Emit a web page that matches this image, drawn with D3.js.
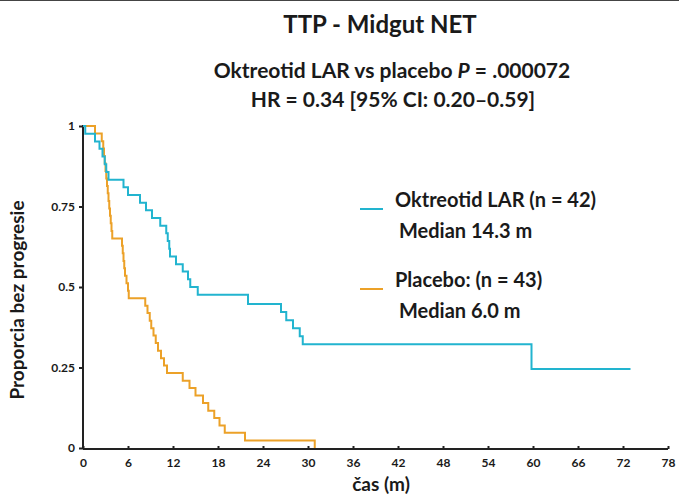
<!DOCTYPE html>
<html>
<head>
<meta charset="utf-8">
<script src="https://cdn.jsdelivr.net/npm/d3@7"></script>
<style>
  body { margin: 0; background: #fff; }
  svg { display: block; }
  text { font-family: Lato, "Open Sans", sans-serif; font-weight: bold; fill: #1a1a1a; }
</style>
</head>
<body>
<script>
// months on x axis
const monthTicks = [0, 6, 12, 18, 24, 30, 36, 42, 48, 54, 60, 66, 72, 78];
const propTicks = [0, 0.25, 0.5, 0.75, 1];
const propLabels = ['0', '0.25', '0.5', '0.75', '1'];

// Oktreotid LAR (n = 42)
const oktTime = [0, 0.3, 1.6, 2.2, 2.6, 2.9, 3.1, 3.4, 5.4, 6.0, 7.6, 8.4, 9.2, 10.3, 11.1, 11.3, 11.5, 11.6, 12.4, 13.3, 14.0, 14.3, 15.3, 22.0, 26.4, 27.1, 28.0, 28.9, 29.3, 59.8, 73];
const oktSurv = [1, 0.976, 0.952, 0.929, 0.905, 0.881, 0.857, 0.833, 0.810, 0.786, 0.762, 0.738, 0.714, 0.690, 0.667, 0.643, 0.619, 0.595, 0.571, 0.548, 0.524, 0.500, 0.476, 0.447, 0.422, 0.397, 0.372, 0.347, 0.322, 0.245, 0.245];

// Placebo (n = 43)
const plcTime = [0, 1.6, 2.5, 2.7, 2.8, 2.9, 3.0, 3.1, 3.2, 3.3, 3.4, 3.5, 3.6, 3.7, 3.8, 3.9, 5.2, 5.3, 5.4, 5.5, 5.6, 5.8, 6.0, 6.1, 8.3, 8.6, 8.9, 9.1, 9.4, 9.7, 10.0, 10.4, 10.8, 11.2, 13.3, 14.2, 15.0, 16.0, 16.7, 17.5, 18.2, 18.9, 21.6, 30.9];
const plcSurv = [1, 0.977, 0.953, 0.930, 0.907, 0.884, 0.860, 0.837, 0.814, 0.791, 0.767, 0.744, 0.721, 0.698, 0.674, 0.651, 0.628, 0.605, 0.581, 0.558, 0.535, 0.512, 0.488, 0.465, 0.442, 0.419, 0.395, 0.372, 0.349, 0.326, 0.302, 0.279, 0.256, 0.233, 0.209, 0.186, 0.163, 0.140, 0.116, 0.093, 0.070, 0.047, 0.023, 0];

const cyan = '#22b4cf';
const orange = '#eca128';

const W = 679, H = 497;
const svg = d3.select('body').append('svg').attr('width', W).attr('height', H);

svg.append('line').attr('x1', 0).attr('x2', W).attr('y1', 0.5).attr('y2', 0.5)
  .attr('stroke', '#444').attr('stroke-width', 1);

const x = d3.scaleLinear().domain([0, 78]).range([83, 668]);
const y = d3.scaleLinear().domain([0, 1]).range([448, 126]);

// axes
const xAxis = svg.append('g').attr('transform', `translate(0,${y(0) + 1})`)
  .call(d3.axisBottom(x).tickValues(monthTicks).tickSize(-3).tickPadding(9).tickFormat(d3.format('d')));
xAxis.select('.domain').attr('stroke', '#222').attr('stroke-width', 2).attr('d', `M${x(0)},0H${x(78)}`);
xAxis.selectAll('.tick line').attr('stroke', '#222').attr('stroke-width', 2);
xAxis.selectAll('.tick text').style('font-size', '12px').style('font-family', 'Lato, sans-serif').attr('fill', '#333');

const yAxis = svg.append('g').attr('transform', `translate(${x(0)},0)`)
  .call(d3.axisLeft(y).tickValues(propTicks).tickSize(4).tickPadding(4).tickFormat((d, i) => propLabels[i]));
yAxis.select('.domain').attr('stroke', '#222').attr('stroke-width', 2).attr('d', `M0,${y(1) - 1}V${y(0) + 1}`);
yAxis.selectAll('.tick line').attr('stroke', '#222').attr('stroke-width', 2);
yAxis.selectAll('.tick text').style('font-size', '12px').style('font-family', 'Lato, sans-serif').attr('fill', '#333');

// curves
const step = d3.line().x(d => x(d[0])).y(d => y(d[1])).curve(d3.curveStepAfter);
svg.append('path').datum(plcTime.map((t, i) => [t, plcSurv[i]]))
  .attr('d', step).attr('fill', 'none').attr('stroke', orange).attr('stroke-width', 2);
svg.append('path').datum(oktTime.map((t, i) => [t, oktSurv[i]]))
  .attr('d', step).attr('fill', 'none').attr('stroke', cyan).attr('stroke-width', 2);

// titles
svg.append('text').attr('x', 380).attr('y', 33).attr('text-anchor', 'middle')
  .style('font-size', '24px').text('TTP - Midgut NET');
const sub = svg.append('text').attr('x', 392).attr('y', 78).attr('text-anchor', 'middle').style('font-size', '21px');
sub.append('tspan').text('Oktreotid LAR vs placebo ');
sub.append('tspan').style('font-style', 'italic').text('P');
sub.append('tspan').text(' = .000072');
svg.append('text').attr('x', 393).attr('y', 107).attr('text-anchor', 'middle')
  .style('font-size', '21px').text('HR = 0.34 [95% CI: 0.20–0.59]');

// axis titles
svg.append('text').attr('transform', 'translate(24,300) rotate(-90)').attr('text-anchor', 'middle')
  .style('font-size', '19px').text('Proporcia bez progresie');
svg.append('text').attr('x', 381).attr('y', 491).attr('text-anchor', 'middle')
  .style('font-size', '19px').text('čas (m)');

// legend
const legend = [
  { color: cyan, name: 'Oktreotid LAR (n = 42)', median: 'Median 14.3 m', y: 207 },
  { color: orange, name: 'Placebo: (n = 43)', median: 'Median 6.0 m', y: 287 }
];
legend.forEach(l => {
  svg.append('line').attr('x1', 360).attr('x2', 383).attr('y1', l.y + 2).attr('y2', l.y + 2)
    .attr('stroke', l.color).attr('stroke-width', 2);
  svg.append('text').attr('x', 395).attr('y', l.y).style('font-size', '20px').text(l.name);
  svg.append('text').attr('x', 399).attr('y', l.y + 31).style('font-size', '20px').text(l.median);
});
</script>
</body>
</html>
